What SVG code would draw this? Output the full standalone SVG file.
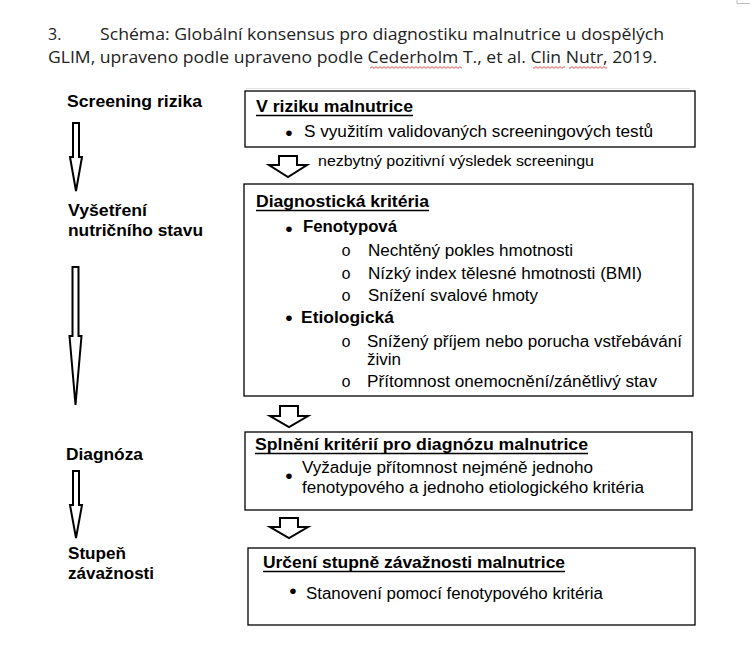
<svg xmlns="http://www.w3.org/2000/svg" width="750" height="663" viewBox="0 0 750 663">
<defs>
<style>
.title{font-family:"Open Sans","Liberation Sans",sans-serif;font-size:16px;fill:#222}
.lbl{font-family:"Liberation Sans",Arial,sans-serif;font-size:16px;font-weight:bold;fill:#000}
.t{font-family:"Liberation Sans",Arial,sans-serif;font-size:16px;fill:#000}
.tb{font-family:"Liberation Sans",Arial,sans-serif;font-size:16px;font-weight:bold;fill:#000}
.sm{font-family:"Liberation Sans",Arial,sans-serif;font-size:14.5px;fill:#000}
.bul{font-family:"Liberation Sans",Arial,sans-serif;font-size:21px;fill:#000;text-anchor:middle}
.circ{font-family:"Liberation Mono","Courier New",monospace;font-size:16px;fill:#000;text-anchor:middle}
.box{fill:#fff;stroke:#000;stroke-width:1.3}
.ul{stroke:#000;stroke-width:1.4}
.arr{fill:#fff;stroke:#000;stroke-width:2;stroke-linejoin:miter}
</style>
<pattern id="squig" x="0" y="0" width="4" height="3" patternUnits="userSpaceOnUse">
<path d="M0,0.6 L2,2.4 L4,0.6" fill="none" stroke="#e02020" stroke-width="0.8"/>
</pattern>
</defs>
<rect width="750" height="663" fill="#fff"/>
<path d="M737,0 V3.5 H750" fill="none" stroke="#bdbdbd" stroke-width="1"/>
<g id="title">
<text class="title" x="48" y="40">3.</text>
<text class="title" x="100" y="40" textLength="564" lengthAdjust="spacingAndGlyphs">Schéma: Globální konsensus pro diagnostiku malnutrice u dospělých</text>
<text class="title" x="48" y="63" textLength="609" lengthAdjust="spacingAndGlyphs">GLIM, upraveno podle upraveno podle Cederholm T., et al. Clin Nutr, 2019.</text>
<rect x="370" y="66" width="92" height="3" fill="url(#squig)"/>
<rect x="533" y="66" width="32" height="3" fill="url(#squig)"/>
<rect x="569" y="66" width="38" height="3" fill="url(#squig)"/>
<line x1="246" y1="88.5" x2="690" y2="88.5" stroke="#e2e2e2" stroke-width="1"/>
</g>
<g id="labels">
<text class="lbl" x="67" y="107" textLength="135" lengthAdjust="spacingAndGlyphs">Screening rizika</text>
<text class="lbl" x="68" y="216" textLength="79" lengthAdjust="spacingAndGlyphs">Vyšetření</text>
<text class="lbl" x="68" y="236" textLength="135" lengthAdjust="spacingAndGlyphs">nutričního stavu</text>
<text class="lbl" x="66" y="460" textLength="77" lengthAdjust="spacingAndGlyphs">Diagnóza</text>
<text class="lbl" x="68" y="559" textLength="58" lengthAdjust="spacingAndGlyphs">Stupeň</text>
<text class="lbl" x="68" y="579" textLength="86" lengthAdjust="spacingAndGlyphs">závažnosti</text>
</g>
<g id="connectors">
<path class="arr" d="M73,123 H79 V157 H82 L76,191 L70,157 H73 Z"/>
<path class="arr" d="M72.5,267 H78.5 V336 H81.5 L75.5,405 L69.5,336 H72.5 Z"/>
<path class="arr" d="M73,471 H79 V505 H82 L76,538 L70,505 H73 Z"/>
<path class="arr" d="M279,156 H297 V165 H307 L288,177 L269,165 H279 Z"/>
<path class="arr" d="M280,406 H298 V416 H308 L289,427 L270,416 H280 Z"/>
<path class="arr" d="M280,518 H298 V527 H308 L289,538 L270,527 H280 Z"/>
<text class="sm" x="318" y="166" textLength="276" lengthAdjust="spacingAndGlyphs">nezbytný pozitivní výsledek screeningu</text>
</g>
<g id="box-risk">
<rect class="box" x="245" y="91" width="450" height="56"/>
<text class="tb" x="256" y="112" textLength="157" lengthAdjust="spacingAndGlyphs">V riziku malnutrice</text>
<line class="ul" x1="256" y1="115.5" x2="413" y2="115.5"/>
<text class="bul" x="289" y="139.5">•</text>
<text class="t" x="304" y="137" textLength="349" lengthAdjust="spacingAndGlyphs">S využitím validovaných screeningových testů</text>
</g>
<g id="box-criteria">
<rect class="box" x="244" y="184" width="449" height="212"/>
<text class="tb" x="256" y="207" textLength="173" lengthAdjust="spacingAndGlyphs">Diagnostická kritéria</text>
<line class="ul" x1="256" y1="210.5" x2="429" y2="210.5"/>
<text class="bul" x="289" y="235.5">•</text>
<text class="tb" x="303" y="232" textLength="94" lengthAdjust="spacingAndGlyphs">Fenotypová</text>
<text class="circ" x="346" y="256">o</text>
<text class="t" x="368" y="256" textLength="205" lengthAdjust="spacingAndGlyphs">Nechtěný pokles hmotnosti</text>
<text class="circ" x="346" y="279">o</text>
<text class="t" x="368" y="279" textLength="274" lengthAdjust="spacingAndGlyphs">Nízký index tělesné hmotnosti (BMI)</text>
<text class="circ" x="346" y="301">o</text>
<text class="t" x="368" y="301" textLength="170" lengthAdjust="spacingAndGlyphs">Snížení svalové hmoty</text>
<text class="bul" x="289" y="325">•</text>
<text class="tb" x="301" y="323" textLength="93" lengthAdjust="spacingAndGlyphs">Etiologická</text>
<text class="circ" x="346" y="347">o</text>
<text class="t" x="367" y="347" textLength="315" lengthAdjust="spacingAndGlyphs">Snížený příjem nebo porucha vstřebávání</text>
<text class="t" x="367" y="365" textLength="34" lengthAdjust="spacingAndGlyphs">živin</text>
<text class="circ" x="346" y="387">o</text>
<text class="t" x="367" y="387" textLength="290" lengthAdjust="spacingAndGlyphs">Přítomnost onemocnění/zánětlivý stav</text>
</g>
<g id="box-diagnosis">
<rect class="box" x="245" y="432" width="447" height="78"/>
<text class="tb" x="255" y="450" textLength="333" lengthAdjust="spacingAndGlyphs">Splnění kritérií pro diagnózu malnutrice</text>
<line class="ul" x1="255" y1="453.5" x2="588" y2="453.5"/>
<text class="bul" x="289" y="482.5">•</text>
<text class="t" x="302" y="473" textLength="291" lengthAdjust="spacingAndGlyphs">Vyžaduje přítomnost nejméně jednoho</text>
<text class="t" x="302" y="493" textLength="342" lengthAdjust="spacingAndGlyphs">fenotypového a jednoho etiologického kritéria</text>
</g>
<g id="box-severity">
<rect class="box" x="248" y="548" width="447" height="77"/>
<text class="tb" x="263" y="568" textLength="302" lengthAdjust="spacingAndGlyphs">Určení stupně závažnosti malnutrice</text>
<line class="ul" x1="263" y1="571.5" x2="565" y2="571.5"/>
<text class="bul" x="293" y="597.5">•</text>
<text class="t" x="306" y="599" textLength="297" lengthAdjust="spacingAndGlyphs">Stanovení pomocí fenotypového kritéria</text>
</g>
</svg>
